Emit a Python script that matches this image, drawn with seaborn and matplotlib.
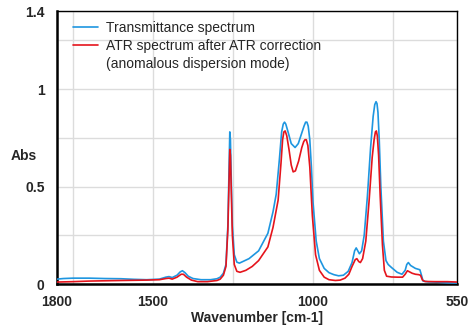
import matplotlib
matplotlib.use("Agg")
import matplotlib.pyplot as plt
from matplotlib.lines import Line2D
import seaborn as sns
import pandas as pd

# Transmittance spectrum
trans_wn = [1800, 1780, 1750, 1700, 1650, 1600, 1560, 1520, 1480, 1460, 1450, 1440,
            1425, 1415, 1408, 1400, 1390, 1375, 1350, 1320, 1300, 1290, 1280, 1272,
            1266, 1262, 1260, 1258, 1256, 1252, 1246, 1238, 1230, 1200, 1170, 1141, 1125,
            1115, 1105, 1098, 1093, 1089, 1085, 1078, 1068, 1056, 1046, 1036, 1028, 1023,
            1019, 1015, 1010, 1005, 1000, 990, 980, 965, 950, 935, 920, 905, 890, 878, 870, 865,
            860, 855, 848, 840, 830, 820, 812, 807, 803, 800, 797, 793, 788, 780, 772, 765,
            755, 737, 722, 712, 707, 702, 695, 688, 680, 672, 666, 661, 656, 640,
            620, 600, 580, 560, 550]
trans_abs = [0.025, 0.028, 0.030, 0.030, 0.028, 0.027, 0.024, 0.022, 0.025, 0.035, 0.038, 0.033,
             0.045, 0.062, 0.068, 0.058, 0.040, 0.028, 0.022, 0.022, 0.027, 0.035, 0.055, 0.10,
             0.30, 0.62, 0.78, 0.74, 0.58, 0.30, 0.15, 0.112, 0.107, 0.13, 0.17, 0.26, 0.37,
             0.46, 0.64, 0.78, 0.82, 0.83, 0.82, 0.78, 0.72, 0.70, 0.72, 0.77, 0.81, 0.83,
             0.83, 0.81, 0.74, 0.60, 0.42, 0.22, 0.13, 0.08, 0.058, 0.048, 0.042, 0.045, 0.065, 0.11, 0.17, 0.185,
             0.17, 0.155, 0.17, 0.25, 0.45, 0.70, 0.86, 0.92, 0.935, 0.925, 0.88, 0.74, 0.50, 0.22, 0.12, 0.10,
             0.085, 0.06, 0.05, 0.07, 0.10, 0.11, 0.095, 0.088, 0.08, 0.076, 0.073, 0.045, 0.015, 0.011,
             0.010, 0.008, 0.006, 0.005, 0.005]

# ATR spectrum after ATR correction
atr_wn = [1800, 1750, 1700, 1600, 1520, 1480, 1460, 1450, 1440, 1425, 1412, 1405,
          1395, 1380, 1360, 1330, 1300, 1290, 1280, 1272, 1266, 1262, 1260, 1258, 1256,
          1252, 1246, 1238, 1228, 1210, 1190, 1170, 1141, 1125, 1109, 1100, 1095,
          1091, 1087, 1082, 1075, 1068, 1062, 1055, 1045, 1035, 1029, 1025, 1021, 1016, 1010,
          1002, 992, 980, 965, 950, 930, 915, 900, 888, 878, 868, 863, 857, 852,
          845, 835, 825, 815, 809, 805, 802, 799, 795, 790, 783, 777, 770, 755, 735, 720,
          712, 705, 698, 690, 680, 670, 664, 658, 650, 620, 580, 550]
atr_abs = [0.010, 0.012, 0.015, 0.018, 0.020, 0.022, 0.028, 0.030, 0.025, 0.035, 0.050, 0.050,
           0.035, 0.020, 0.012, 0.012, 0.018, 0.025, 0.045, 0.09, 0.28, 0.55, 0.69, 0.66, 0.52,
           0.25, 0.10, 0.065, 0.060, 0.07, 0.09, 0.12, 0.19, 0.29, 0.43, 0.62, 0.74,
           0.78, 0.785, 0.76, 0.69, 0.61, 0.575, 0.58, 0.63, 0.70, 0.73, 0.74, 0.74, 0.71, 0.60,
           0.35, 0.15, 0.07, 0.035, 0.022, 0.018, 0.020, 0.030, 0.050, 0.09, 0.125, 0.13, 0.115, 0.11,
           0.13, 0.22, 0.42, 0.65, 0.74, 0.78, 0.785, 0.76, 0.66, 0.45, 0.20, 0.07, 0.04, 0.036, 0.035, 0.035,
           0.05, 0.068, 0.062, 0.055, 0.05, 0.048, 0.045, 0.02, 0.013, 0.012, 0.012, 0.010]

trans_label = "Transmittance spectrum"
atr_label = "ATR spectrum after ATR correction"
atr_note = "(anomalous dispersion mode)"
x_ticks = [1800, 1500, 1000, 550]
x_grid = [1750, 1250, 750]
y_ticks = [0, 0.5, 1, 1.4]
y_tick_labels = ["0", "0.5", "1", "1.4"]
y_grid = [0.25, 0.75, 1.25]

sns.set_style("white")
plt.rcParams["font.family"] = ["Liberation Sans", "DejaVu Sans"]

blue = "#1e96e0"
red = "#e5141c"

fig = plt.figure(figsize=(4.74, 3.34), dpi=100)
ax = fig.add_axes([57 / 474, 50 / 334, 400 / 474, 273 / 334])

df_t = pd.DataFrame({"wn": trans_wn, "abs": trans_abs})
df_a = pd.DataFrame({"wn": atr_wn, "abs": atr_abs})
sns.lineplot(data=df_t, x="wn", y="abs", ax=ax, color=blue, lw=1.2, sort=False, zorder=3)
sns.lineplot(data=df_a, x="wn", y="abs", ax=ax, color=red, lw=1.2, sort=False, zorder=4)

ax.set_xlim(1800, 550)
ax.set_ylim(0, 1.4)
ax.set_xticks(x_ticks)
ax.set_xticklabels([str(v) for v in x_ticks])
ax.set_xticks(x_grid, minor=True)
ax.set_yticks(y_ticks)
ax.set_yticklabels(y_tick_labels)
ax.set_yticks(y_grid, minor=True)
ax.grid(True, which="both", color="#dcdcdc", lw=1.0, zorder=0)
ax.set_axisbelow(True)
ax.tick_params(axis="both", which="both", length=0)
ax.tick_params(axis="x", pad=8)
ax.tick_params(axis="y", pad=9)
for lab in ax.get_xticklabels() + ax.get_yticklabels():
    lab.set_fontsize(10)
    lab.set_fontweight("bold")

ax.set_xlabel("Wavenumber [cm-1]", fontsize=10, fontweight="bold", labelpad=1.5)
ax.set_ylabel("Abs", fontsize=10, fontweight="bold", rotation=0, ha="left", va="center")
ax.yaxis.set_label_coords(-0.117, 0.47)

for side in ["left", "bottom"]:
    ax.spines[side].set_linewidth(1.8)
for side in ["top", "right"]:
    ax.spines[side].set_linewidth(1.0)
for side in ax.spines:
    ax.spines[side].set_color("black")
    ax.spines[side].set_visible(True)

handles = [Line2D([], [], color=blue, lw=1.2),
           Line2D([], [], color=red, lw=1.2),
           Line2D([], [], color="none", lw=0)]
ax.legend(handles, [trans_label, atr_label, atr_note], loc="upper left",
          bbox_to_anchor=(0.025, 0.985), frameon=False, fontsize=10,
          handlelength=1.8, handletextpad=0.6, labelspacing=0.3, borderaxespad=0)

fig.savefig("out.png", dpi=100)
